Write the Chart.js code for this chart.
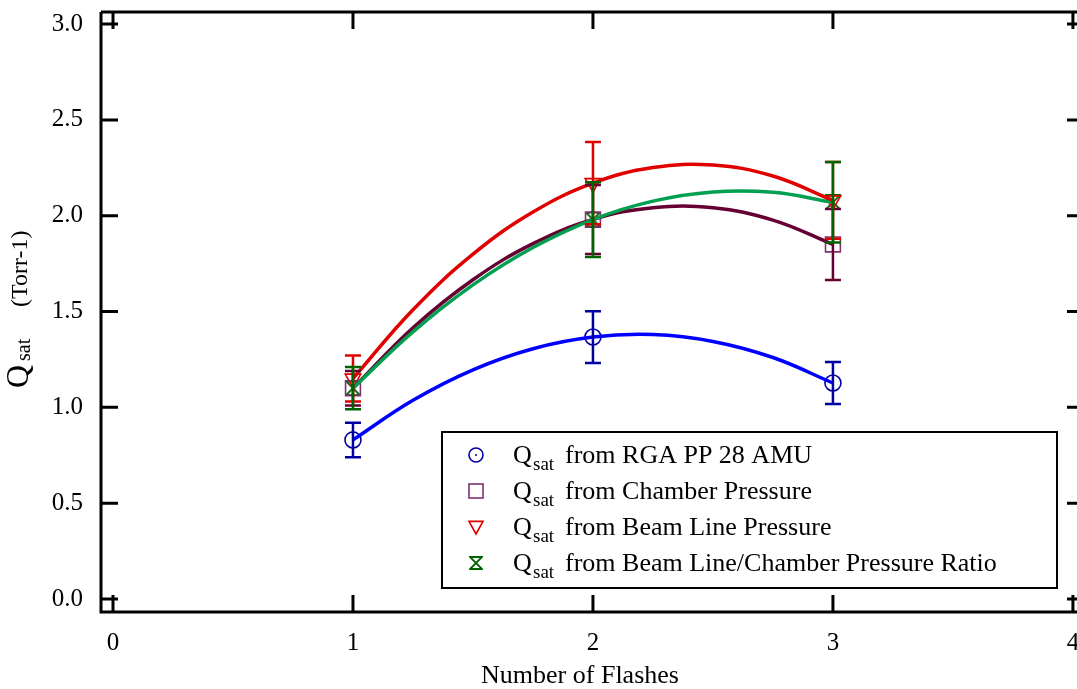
<!DOCTYPE html>
<html><head><meta charset="utf-8">
<script src="https://cdn.jsdelivr.net/npm/chart.js@4.4.1/dist/chart.umd.min.js"></script>
<style>html,body{margin:0;padding:0;background:#fff}#wrap{width:1077px;height:689px}</style>
</head><body><div id="wrap"><canvas id="c" width="1077" height="689"></canvas></div>
<script>
// ---- data ----
const flashes = [1, 2, 3];
const rgaQ = [0.83, 1.367, 1.127];
const rgaErr = [0.09, 0.135, 0.11];
const chamberQ = [1.10, 1.98, 1.85];
const chamberErr = [0.09, 0.18, 0.185];
const beamQ = [1.15, 2.17, 2.08];
const beamErr = [0.12, 0.215, 0.20];
const ratioQ = [1.10, 1.98, 2.07];
const ratioErr = [0.11, 0.195, 0.21];
// fitted curves
const fitX = [1, 1.25, 1.5, 1.75, 2, 2.25, 2.5, 2.75, 3];
const fitRga = [0.83, 1.037, 1.196, 1.306, 1.367, 1.380, 1.344, 1.260, 1.127];
const fitChamber = [1.10, 1.415, 1.666, 1.854, 1.98, 2.042, 2.041, 1.977, 1.85];
const fitBeam = [1.15, 1.509, 1.799, 2.019, 2.17, 2.251, 2.264, 2.207, 2.08];
const fitRatio = [1.10, 1.394, 1.639, 1.834, 1.98, 2.076, 2.124, 2.122, 2.07];
const xTicks = [0, 1, 2, 3, 4];
const yTicks = [0, 0.5, 1.0, 1.5, 2.0, 2.5, 3.0];
const seriesNames = ['from RGA PP 28 AMU', 'from Chamber Pressure', 'from Beam Line Pressure', 'from Beam Line/Chamber Pressure Ratio'];
const xTitle = 'Number of Flashes';
const yTitleMain = 'Q', yTitleSub = 'sat', yTitleUnit = '(Torr-1)';

const SERIF = "'Liberation Serif','Times New Roman',serif";
const C_BLUE_M = '#0000a0', C_BLUE_L = '#0000ff';
const C_PURP_M = '#803070', C_PURP_L = '#660033';
const C_RED_M = '#e00000', C_RED_L = '#e00000';
const C_GRN_M = '#006400', C_GRN_L = '#00a050';

function hourglass(color, s) {
  const c = document.createElement('canvas');
  c.width = s; c.height = s;
  const g = c.getContext('2d');
  g.strokeStyle = color; g.lineWidth = 1.8;
  g.beginPath();
  g.moveTo(1, 1); g.lineTo(s - 1, 1); g.lineTo(1, s - 1); g.lineTo(s - 1, s - 1); g.closePath();
  g.stroke();
  return c;
}
const hgBig = hourglass(C_GRN_M, 16);
const hgSmall = hourglass(C_GRN_M, 14);

const pts = (xs, ys) => xs.map((x, i) => ({x: x, y: ys[i]}));
const fitDs = (ys, color) => ({data: pts(fitX, ys), showLine: true, pointRadius: 0, borderColor: color, borderWidth: 3.5, tension: 0.4, fill: false});

const errSets = [
  {v: rgaQ, e: rgaErr, c: C_BLUE_M},
  {v: chamberQ, e: chamberErr, c: C_PURP_L},
  {v: beamQ, e: beamErr, c: C_RED_M},
  {v: ratioQ, e: ratioErr, c: C_GRN_M}
];

const errorBars = {
  id: 'errorBars',
  afterDatasetsDraw(chart) {
    const ctx = chart.ctx, xs = chart.scales.x, ys = chart.scales.y;
    ctx.save();
    ctx.lineWidth = 2.5;
    errSets.forEach(s => {
      ctx.strokeStyle = s.c;
      flashes.forEach((f, i) => {
        const x = xs.getPixelForValue(f);
        const yt = ys.getPixelForValue(s.v[i] + s.e[i]);
        const yb = ys.getPixelForValue(s.v[i] - s.e[i]);
        ctx.beginPath();
        ctx.moveTo(x, yt); ctx.lineTo(x, yb);
        ctx.moveTo(x - 8, yt); ctx.lineTo(x + 8, yt);
        ctx.moveTo(x - 8, yb); ctx.lineTo(x + 8, yb);
        ctx.stroke();
      });
    });
    ctx.restore();
  }
};

function drawMarker(ctx, kind, x, y, s) {
  ctx.save();
  ctx.lineWidth = 1.6;
  if (kind === 0) {
    ctx.strokeStyle = C_BLUE_M; ctx.fillStyle = C_BLUE_M;
    ctx.beginPath(); ctx.arc(x, y, s, 0, Math.PI * 2); ctx.stroke();
    ctx.beginPath(); ctx.arc(x, y, 1, 0, Math.PI * 2); ctx.fill();
  } else if (kind === 1) {
    ctx.strokeStyle = C_PURP_M;
    ctx.strokeRect(x - s, y - s, 2 * s, 2 * s);
  } else if (kind === 2) {
    ctx.strokeStyle = C_RED_M;
    ctx.beginPath(); ctx.moveTo(x - s, y - s * 0.8); ctx.lineTo(x + s, y - s * 0.8); ctx.lineTo(x, y + s); ctx.closePath(); ctx.stroke();
  } else {
    ctx.drawImage(hgSmall, x - 7, y - 7);
  }
  ctx.restore();
}

const frame = {
  id: 'frame',
  afterDraw(chart) {
    const ctx = chart.ctx, a = chart.chartArea, xs = chart.scales.x, ys = chart.scales.y;
    ctx.save();
    ctx.strokeStyle = '#000'; ctx.lineWidth = 3; ctx.lineCap = 'butt';
    ctx.beginPath();
    ctx.moveTo(a.left, a.top); ctx.lineTo(a.right, a.top);
    ctx.moveTo(a.left, a.top); ctx.lineTo(a.left, a.bottom);
    ctx.moveTo(a.left - 1.5, a.bottom); ctx.lineTo(a.right, a.bottom);
    ctx.stroke();
    ctx.beginPath();
    xTicks.forEach(v => {
      const x = xs.getPixelForValue(v);
      ctx.moveTo(x, a.bottom); ctx.lineTo(x, a.bottom - 17);
      ctx.moveTo(x, a.top); ctx.lineTo(x, a.top + 17);
    });
    yTicks.forEach(v => {
      const y = ys.getPixelForValue(v);
      ctx.moveTo(a.left, y); ctx.lineTo(a.left + 17, y);
      ctx.moveTo(a.right, y); ctx.lineTo(a.right - 10, y);
    });
    ctx.stroke();

    // axis titles
    ctx.fillStyle = '#000';
    ctx.textBaseline = 'alphabetic';
    ctx.textAlign = 'center';
    ctx.font = '26px ' + SERIF;
    ctx.fillText(xTitle, 580, 683);

    ctx.save();
    ctx.translate(28, 388);
    ctx.rotate(-Math.PI / 2);
    ctx.textAlign = 'left';
    ctx.font = '32px ' + SERIF;
    ctx.fillText(yTitleMain, 0, 0);
    ctx.font = '20px ' + SERIF;
    ctx.fillText(yTitleSub, 27, 2);
    ctx.font = '24px ' + SERIF;
    ctx.fillText(yTitleUnit, 81, -1);
    ctx.restore();

    // legend
    const lx = 442, ly = 432, lw = 615, lh = 156;
    ctx.fillStyle = '#fff';
    ctx.fillRect(lx, ly, lw, lh);
    ctx.lineWidth = 2; ctx.strokeStyle = '#000';
    ctx.strokeRect(lx, ly, lw, lh);
    ctx.fillStyle = '#000';
    ctx.textAlign = 'left';
    seriesNames.forEach((name, i) => {
      const base = 463 + i * 36;
      drawMarker(ctx, i, 476, base - 8, 7);
      ctx.fillStyle = '#000';
      ctx.font = '26px ' + SERIF;
      ctx.fillText('Q', 513, base);
      ctx.font = '19px ' + SERIF;
      ctx.fillText('sat', 533, base + 7);
      ctx.font = '26px ' + SERIF;
      ctx.fillText(name, 565, base);
    });
    ctx.restore();
  }
};

new Chart(document.getElementById('c'), {
  type: 'scatter',
  data: {
    datasets: [
      fitDs(fitRga, C_BLUE_L),
      fitDs(fitBeam, C_RED_L),
      fitDs(fitRatio, C_GRN_L),
      fitDs(fitChamber, C_PURP_L),
      {data: pts(flashes, rgaQ), pointStyle: 'circle', pointRadius: 8, borderColor: C_BLUE_M, backgroundColor: 'rgba(0,0,0,0)', pointBorderWidth: 1.6},
      {data: pts(flashes, chamberQ), pointStyle: 'rect', pointRadius: 10.5, borderColor: C_PURP_M, backgroundColor: 'rgba(0,0,0,0)', pointBorderWidth: 1.6},
      {data: pts(flashes, beamQ), pointStyle: 'triangle', pointRotation: 180, pointRadius: 9, borderColor: C_RED_M, backgroundColor: 'rgba(0,0,0,0)', pointBorderWidth: 1.6},
      {data: pts(flashes, ratioQ), pointStyle: hgBig, pointRadius: 8, borderColor: C_GRN_M, backgroundColor: 'rgba(0,0,0,0)'}
    ]
  },
  options: {
    responsive: false,
    animation: false,
    events: [],
    layout: {autoPadding: false, padding: {top: 12, right: 0, left: 0, bottom: 0}},
    plugins: {legend: {display: false}, tooltip: {enabled: false}},
    scales: {
      x: {
        type: 'linear', min: -0.05, max: 4.017,
        afterBuildTicks: s => { s.ticks = xTicks.map(v => ({value: v})); },
        afterFit: s => { s.height = 77; s.paddingLeft = 0; s.paddingRight = 0; s.paddingTop = 0; s.paddingBottom = 0; },
        grid: {display: false, drawTicks: false},
        border: {display: false},
        ticks: {color: '#000', font: {family: SERIF, size: 25}, padding: 16, callback: v => String(v)}
      },
      y: {
        type: 'linear', min: -0.068, max: 3.063,
        afterBuildTicks: s => { s.ticks = yTicks.map(v => ({value: v})); },
        afterFit: s => { s.width = 101; s.paddingLeft = 0; s.paddingRight = 0; s.paddingTop = 0; s.paddingBottom = 0; },
        grid: {display: false, drawTicks: false},
        border: {display: false},
        ticks: {color: '#000', font: {family: SERIF, size: 25}, padding: 18, callback: v => Number(v).toFixed(1)}
      }
    }
  },
  plugins: [errorBars, frame]
});
</script></body></html>
